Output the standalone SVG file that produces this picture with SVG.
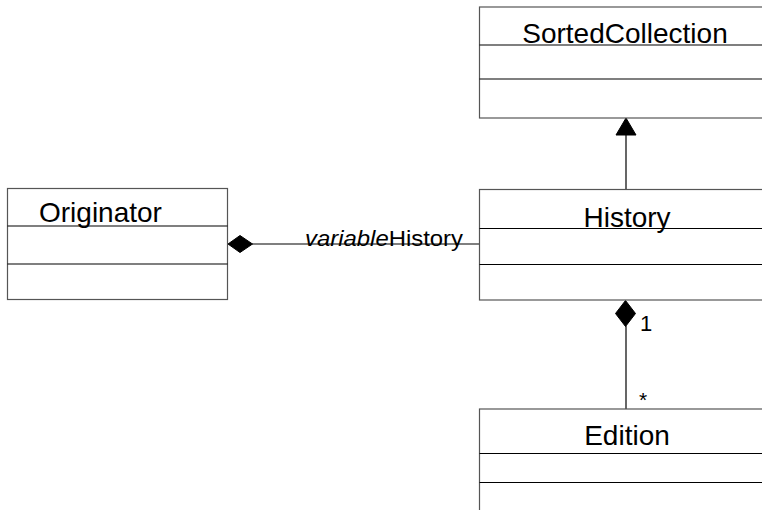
<svg xmlns="http://www.w3.org/2000/svg" width="762" height="510" viewBox="0 0 762 510">
<style>
.box{fill:#fff;stroke:#555;stroke-width:1.2}
.div{stroke:#000;stroke-width:1.2}
.name{font-family:"Liberation Sans",Arial,sans-serif;font-size:28px;fill:#000}
.lbl{font-family:"Liberation Sans",Arial,sans-serif;fill:#000}
.conn{stroke:#000;stroke-width:1.2;fill:none}
.head{fill:#000;stroke:#000}
</style>
<rect width="762" height="510" fill="#fff"/>
<g id="connectors">
<line class="conn" x1="626" y1="189" x2="626" y2="134"/>
<polygon class="head" points="626,118 616,135 636,135"/>
<line class="conn" x1="252" y1="244" x2="479.5" y2="244"/>
<polygon class="head" points="228,244 240,235.5 252.5,244 240,252.5"/>
<line class="conn" x1="626" y1="326" x2="626" y2="409"/>
<polygon class="head" points="625.5,300.5 635.5,313.5 625.5,326.5 615.5,313.5"/>
<text class="lbl" x="305" y="246" font-size="22" textLength="158" lengthAdjust="spacingAndGlyphs"><tspan font-style="italic">variable</tspan>History</text>
<text class="lbl" x="640" y="331" font-size="22">1</text>
<text class="lbl" x="639" y="407" font-size="21">*</text>
</g>
<g id="SortedCollection">
<rect class="box" x="479.5" y="7" width="294" height="111"/>
<line class="div" x1="479.5" y1="45" x2="773" y2="45"/>
<line class="div" x1="479.5" y1="79" x2="773" y2="79"/>
<text class="name" x="625" y="43" text-anchor="middle">SortedCollection</text>
</g>
<g id="Originator">
<rect class="box" x="7.5" y="188.5" width="220" height="111"/>
<line class="div" x1="7.5" y1="226" x2="227.5" y2="226"/>
<line class="div" x1="7.5" y1="264" x2="227.5" y2="264"/>
<text class="name" x="39" y="222">Originator</text>
</g>
<g id="History">
<rect class="box" x="479.5" y="189.5" width="294" height="110.5"/>
<line class="div" x1="479.5" y1="228.5" x2="773" y2="228.5"/>
<line class="div" x1="479.5" y1="264.5" x2="773" y2="264.5"/>
<text class="name" x="627" y="227" text-anchor="middle">History</text>
</g>
<g id="Edition">
<rect class="box" x="479.5" y="409" width="294" height="120"/>
<line class="div" x1="479.5" y1="453.5" x2="773" y2="453.5"/>
<line class="div" x1="479.5" y1="482.5" x2="773" y2="482.5"/>
<text class="name" x="627" y="445" text-anchor="middle">Edition</text>
</g>
</svg>
